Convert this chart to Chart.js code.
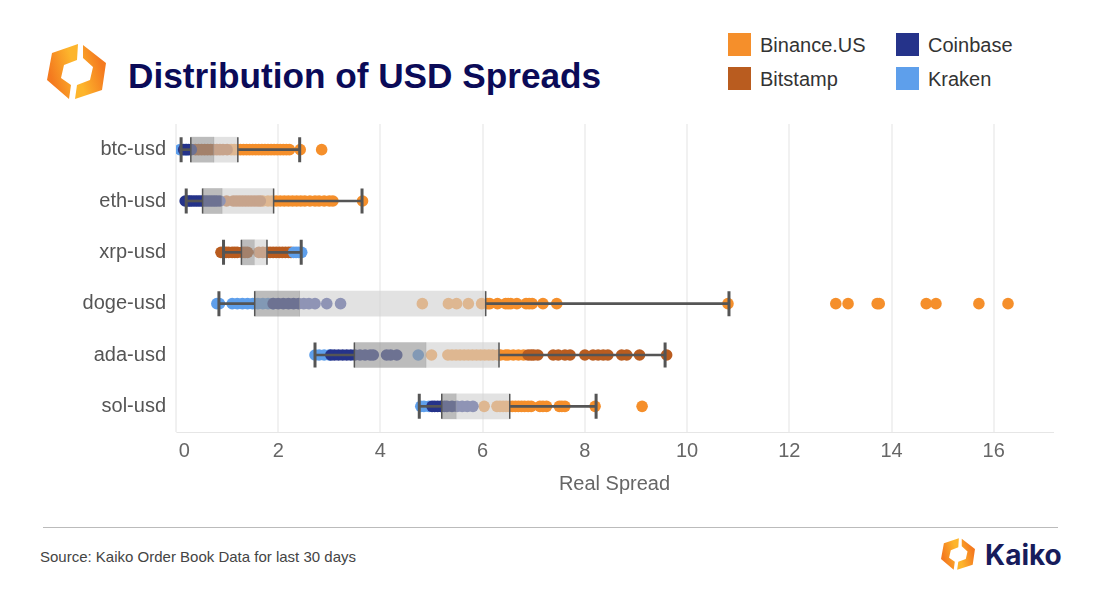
<!DOCTYPE html>
<html lang="en">
<head>
<meta charset="UTF-8">
<title>Distribution of USD Spreads</title>
<script src="https://cdn.jsdelivr.net/npm/chart.js"></script>
<style>
  html, body { margin: 0; background: #fff; }
  #page { position: relative; width: 1100px; height: 594px; overflow: hidden; font-family: "Liberation Sans", Arial, sans-serif; }
  #page canvas { position: absolute; left: 0; top: 0; }
  h1 { position: absolute; left: 128px; top: 55px; margin: 0; font-size: 35.2px; line-height: 42px; font-weight: bold; color: #0b0b58; white-space: nowrap; }
  .key { position: absolute; font-size: 20px; line-height: 24px; color: #333; white-space: nowrap; }
  .key i { position: absolute; left: -32px; top: 0; width: 23px; height: 23px; }
  #rule { position: absolute; left: 43px; top: 527px; width: 1015px; height: 1px; background: #bbb; }
  #source { position: absolute; left: 40px; top: 548px; font-size: 15px; line-height: 17px; color: #444; }
  #brand { position: absolute; left: 985px; top: 537px; font-family: Inter, sans-serif; font-weight: 700; font-size: 28px; line-height: 36px; color: #171c5c; }
  svg { position: absolute; overflow: visible; }
</style>
</head>
<body>
<div id="page">
  <svg id="logo" style="left:0;top:0" width="110" height="110" viewBox="0 0 110 110">
    <defs>
      <linearGradient id="fadeA" x1="0.1" y1="0.55" x2="0.75" y2="0.2"><stop offset="0" stop-color="#f47a1f"/><stop offset="1" stop-color="#fdb52c"/></linearGradient>
      <linearGradient id="fadeB" x1="0.9" y1="0.45" x2="0.25" y2="0.8"><stop offset="0" stop-color="#f47a1f"/><stop offset="1" stop-color="#fdb52c"/></linearGradient>
    </defs>
    <polygon id="markA" fill="url(#fadeA)" points="78,44 52,53 47,80 69,99 71,85 61,78 64,65 77,60"/>
    <polygon id="markB" fill="url(#fadeB)" points="83,45 106,63 102,90 75,99 77,85 90,80 93,67 83,58"/>
  </svg>
  <h1>Distribution of USD Spreads</h1>
  <div id="legend"></div>
  <div id="rule"></div>
  <div id="source">Source: Kaiko Order Book Data for last 30 days</div>
  <svg style="left:941px;top:537px" width="34" height="34" viewBox="47 44 59 55">
    <use href="#markA"/><use href="#markB"/>
  </svg>
  <div id="brand">Kaiko</div>
  <canvas id="spreads" width="1100" height="594"></canvas>
</div>
<script>
const pairs = ['btc-usd', 'eth-usd', 'xrp-usd', 'doge-usd', 'ada-usd', 'sol-usd'];
const xTicks = [0, 2, 4, 6, 8, 10, 12, 14, 16];

// box stats, one per pair
const whiskerLow = [0.1, 0.2, 0.93, 0.84, 2.72, 4.76];
const q1 = [0.29, 0.52, 1.28, 1.54, 3.49, 5.2];
const median = [0.74, 0.9, 1.53, 2.42, 4.89, 5.48];
const q3 = [1.21, 1.91, 1.78, 6.06, 6.32, 6.53];
const whiskerHigh = [2.42, 3.64, 2.45, 10.82, 9.57, 8.22];

// dots per exchange, one list per pair
const binanceValues = [
  [1.08, 1.14, 1.2, 1.26, 1.32, 1.38, 1.44, 1.5, 1.56, 1.62, 1.68, 1.74, 1.8, 1.86, 1.92, 1.98, 2.04, 2.1, 2.16, 2.22, 2.43, 2.85],
  [1.7, 1.8, 1.88, 1.96, 2.04, 2.12, 2.2, 2.28, 2.36, 2.44, 2.52, 2.62, 2.72, 2.8, 2.9, 3.0, 3.07, 3.65],
  [],
  [4.82, 5.33, 5.49, 5.72, 5.98, 6.1, 6.14, 6.29, 6.45, 6.5, 6.55, 6.67, 6.85, 6.91, 6.97, 7.18, 7.45, 10.8, 12.91, 13.15, 13.72, 13.76, 14.68, 14.87, 15.71, 16.28],
  [5.0, 5.32, 5.4, 5.48, 5.56, 5.64, 5.72, 5.8, 5.88, 5.96, 6.04, 6.12, 6.2, 6.3, 6.35, 6.45, 6.5, 6.6, 6.7, 6.8],
  [6.03, 6.28, 6.34, 6.4, 6.46, 6.52, 6.58, 6.64, 6.7, 6.76, 6.82, 6.89, 6.95, 7.12, 7.18, 7.25, 7.5, 7.55, 7.61, 8.2, 9.12]
];
const bitstampValues = [
  [0.38, 0.44, 0.5, 0.56, 0.62, 0.68, 0.74, 0.8, 0.86, 0.92, 1.0],
  [0.99, 1.12, 1.18, 1.24, 1.3, 1.36, 1.42, 1.48, 1.54, 1.6, 1.65],
  [0.88, 0.93, 0.98, 1.03, 1.1, 1.15, 1.2, 1.3, 1.35, 1.4, 1.62, 1.7, 1.78, 1.84, 1.9, 1.96, 2.02, 2.08, 2.14, 2.2, 2.25],
  [],
  [6.89, 6.95, 7.0, 7.08, 7.38, 7.48, 7.61, 7.71, 8.0, 8.16, 8.26, 8.36, 8.45, 8.72, 8.82, 9.07, 9.6],
  []
];
const coinbaseValues = [
  [0.15, 0.2, 0.25, 0.3],
  [0.18, 0.22, 0.26, 0.3, 0.35, 0.4, 0.45, 0.5, 0.55, 0.6, 0.65, 0.7, 0.75, 0.8, 0.86],
  [],
  [1.9, 2.0, 2.1, 2.2, 2.3, 2.4, 2.5, 2.6, 2.72, 2.95, 3.22],
  [3.03, 3.1, 3.18, 3.26, 3.34, 3.42, 3.5, 3.6, 3.7, 3.8, 3.86, 4.12, 4.2, 4.32],
  [5.01, 5.06, 5.12, 5.18, 5.25, 5.3, 5.4, 5.5, 5.6, 5.7, 5.81]
];
const krakenValues = [
  [0.08, 0.12, 0.18, 0.22],
  [],
  [2.3, 2.35, 2.4, 2.46],
  [0.8, 0.85, 1.1, 1.2, 1.3, 1.4, 1.5, 1.6, 1.7, 1.8, 1.9],
  [2.72, 2.8, 2.9, 3.0, 4.74],
  [4.79, 4.85, 4.95]
];

const exchanges = ['Binance.US', 'Bitstamp', 'Coinbase', 'Kraken'];
const exchangeColors = ['#f58f2b', '#b95c1f', '#25338a', '#5e9feb'];

const keySpots = [[760, 33], [760, 67], [928, 33], [928, 67]];
exchanges.forEach((name, i) => {
  const key = document.createElement('div');
  key.className = 'key';
  key.style.left = keySpots[i][0] + 'px';
  key.style.top = keySpots[i][1] + 'px';
  key.innerHTML = '<i style="background:' + exchangeColors[i] + '"></i>' + name;
  document.getElementById('legend').appendChild(key);
});

function dots(name, lists, color, order) {
  const points = [];
  lists.forEach((list, i) => list.forEach(v => points.push({ x: v, y: pairs[i] })));
  return { type: 'scatter', label: name, data: points, order: order, pointRadius: 5.8, pointBackgroundColor: color, pointBorderWidth: 0 };
}

function marks(label, values, width, order) {
  return {
    type: 'scatter', label: label, order: order,
    data: values.map((v, i) => ({ x: v, y: pairs[i] })),
    pointStyle: 'line', pointRotation: 90, pointRadius: 12.5, pointBorderWidth: width, pointBorderColor: '#555'
  };
}

function span(label, from, to, color, thickness, order) {
  return {
    type: 'bar', label: label, indexAxis: 'y', order: order, grouped: false,
    data: from.map((v, i) => [v, to[i]]),
    backgroundColor: color, barThickness: thickness, borderWidth: 0
  };
}

new Chart(document.getElementById('spreads'), {
  data: {
    labels: pairs,
    datasets: [
      marks('low cap', whiskerLow, 3, 1),
      marks('high cap', whiskerHigh, 3, 1),
      marks('q1 edge', q1, 1.5, 1),
      marks('q3 edge', q3, 1.5, 1),
      span('q1-median', q1, median, 'rgba(150,150,150,0.64)', 25, 2),
      span('median-q3', median, q3, 'rgba(208,208,208,0.62)', 25, 2),
      span('lower whisker', whiskerLow, q1, '#555', 2, 3),
      span('upper whisker', q3, whiskerHigh, '#555', 2, 3),
      dots('Coinbase', coinbaseValues, exchangeColors[2], 4),
      dots('Kraken', krakenValues, exchangeColors[3], 5),
      dots('Bitstamp', bitstampValues, exchangeColors[1], 6),
      dots('Binance.US', binanceValues, exchangeColors[0], 7)
    ]
  },
  options: {
    indexAxis: 'y',
    responsive: false,
    animation: false,
    events: [],
    layout: { padding: { top: 124, right: 47, bottom: 98, left: 0 } },
    plugins: { legend: { display: false }, tooltip: { enabled: false } },
    scales: {
      x: {
        type: 'linear',
        min: 0,
        max: 17.16,
        afterBuildTicks: scale => { scale.ticks = xTicks.map(v => ({ value: v })); },
        afterFit: scale => { scale.height = 64; },
        grid: { color: '#f1f1f1', lineWidth: 2, drawTicks: false },
        border: { color: '#e6e6e6', width: 1 },
        ticks: {
          padding: 7,
          maxRotation: 0,
          color: '#666',
          font: { family: '"Liberation Sans"', size: 20 },
          // the zero label sits a little right of its grid line
          callback: v => (v === 0 ? '   0' : String(v))
        },
        title: { display: true, text: 'Real Spread', color: '#666', font: { family: '"Liberation Sans"', size: 20 }, padding: { top: 4, bottom: 0 } }
      },
      y: {
        type: 'category',
        labels: pairs,
        offset: true,
        afterFit: scale => { scale.width = 176; },
        grid: { display: false },
        border: { color: '#f0f0f0', width: 1 },
        ticks: { padding: 2, color: '#555', font: { family: '"Liberation Sans"', size: 20 } }
      }
    }
  }
});
</script>
</body>
</html>
